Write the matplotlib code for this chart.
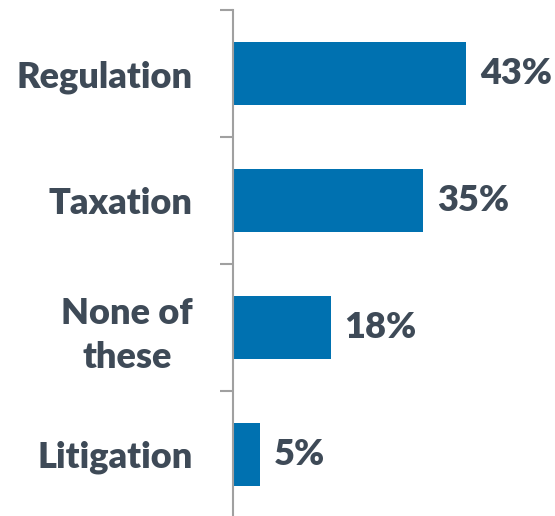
import matplotlib.pyplot as plt
import numpy as np

categories = ["Regulation", "Taxation", "None of\nthese", "Litigation"]
values = [43, 35, 18, 5]
value_labels = ["43%", "35%", "18%", "5%"]

bar_color = "#0071b0"
text_color = "#3e4a57"
axis_color = "#a0a0a0"

fig = plt.figure(figsize=(5.55, 5.16), dpi=100)
ax = fig.add_axes([233 / 555, -2 / 516, 322 / 555, 508 / 516])

y = np.arange(len(categories))
ax.barh(y, values, height=0.5, color=bar_color)
ax.set_ylim(len(categories) - 0.5, -0.5)
ax.set_xlim(0, 322 / 5.42)

for yi, v, lab in zip(y, values, value_labels):
    ax.text(v + 2.6, yi, lab, va="center", ha="left", fontsize=26,
            fontweight=800, family="Lato", color=text_color)

ax.set_yticks(y)
ax.set_yticklabels(categories, fontsize=26, fontweight=800, family="Lato",
                   color=text_color, linespacing=1.4)
ax.tick_params(axis="y", which="major", length=0, pad=29)
ax.set_yticks(np.arange(-0.5, len(categories), 1), minor=True)
ax.tick_params(axis="y", which="minor", length=9.5, width=1.5, color=axis_color)
for lab in ax.get_yticklabels():
    lab.set_horizontalalignment("right")
    lab.set_multialignment("center")

ax.set_xticks([])
for s in ["top", "right", "bottom"]:
    ax.spines[s].set_visible(False)
ax.spines["left"].set_color(axis_color)
ax.spines["left"].set_linewidth(1.5)

fig.savefig("out.png", dpi=100)
